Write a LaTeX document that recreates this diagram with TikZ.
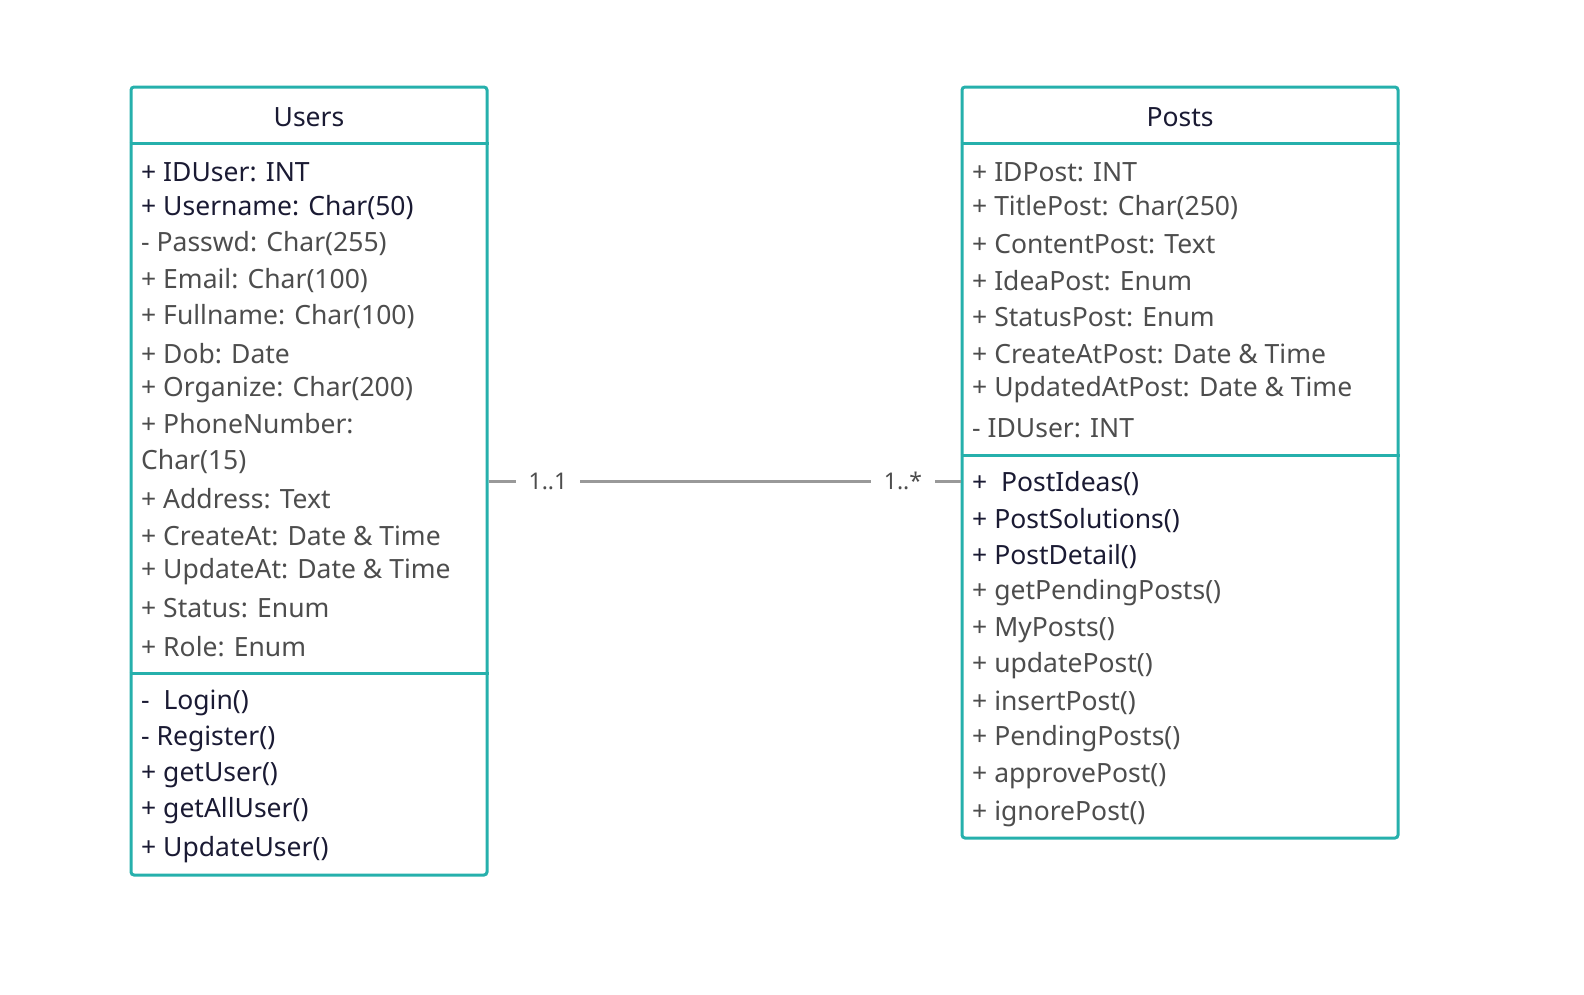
\documentclass[tikz,border=0pt]{standalone}
\usepackage{fontspec}
\setmainfont{Noto Sans}
\usetikzlibrary{calc, positioning}

\definecolor{boxTeal}{HTML}{26B0AC}
\definecolor{darkText}{HTML}{1A1A33}
\definecolor{grayText}{HTML}{4D4D4D}
\definecolor{lineGray}{HTML}{999999}

\tikzset{
  classBox/.style = {draw=boxTeal, line width=3pt, rounded corners=3pt, inner sep=0pt},
  sepLine/.style = {draw=boxTeal, line width=3pt},
  textNode/.style = {align=left, anchor=west, inner sep=0pt, text=grayText,
    font=\fontsize{26.5}{36}\selectfont},
  darkNode/.style = {textNode, text=darkText},
  headNode/.style = {inner sep=0pt, text=darkText, font=\fontsize{26.5}{30}\selectfont},
  multLabel/.style = {fill=white, inner xsep=13pt, inner ysep=2pt, text=grayText,
    font=\fontsize{23}{26}\selectfont}
}

\begin{document}
\begin{tikzpicture}[x=1pt, y=-1pt]
  \useasboundingbox (0,0) rectangle (1584,994);

  % Users class
  \node[classBox, minimum width=356pt, minimum height=788pt] (users) at (309,481) {};
  \node[headNode] (usersHead) at (309,117) {Users};
  \draw[sepLine] (users.west |- 0,143) -- (users.east |- 0,143);
  \draw[sepLine] (users.west |- 0,673) -- (users.east |- 0,673);

  \node[darkNode] (uIdUser) at (141,172) {+ IDUser: INT};
  \node[darkNode] (uUsername) at (141,208) {+ Username: Char(50)};
  \node[textNode] (uPasswd) at (141,244) {- Passwd: Char(255)};
  \node[textNode] (uEmail) at (141,281) {+ Email: Char(100)};
  \node[textNode] (uFullname) at (141,317) {+ Fullname: Char(100)};
  \node[textNode] (uDob) at (141,354) {+ Dob: Date};
  \node[textNode] (uOrganize) at (141,390) {+ Organize: Char(200)};
  \node[textNode] (uPhone) at (141,444) {+ PhoneNumber:\\Char(15)};
  \node[textNode] (uAddress) at (141,499) {+ Address: Text};
  \node[textNode] (uCreateAt) at (141,536) {+ CreateAt: Date \& Time};
  \node[textNode] (uUpdateAt) at (141,572) {+ UpdateAt: Date \& Time};
  \node[textNode] (uStatus) at (141,608) {+ Status: Enum};
  \node[textNode] (uRole) at (141,647) {+ Role: Enum};

  \node[darkNode] (uLogin) at (141,703) {-\ \ Login()};
  \node[darkNode] (uRegister) at (141,739) {- Register()};
  \node[darkNode] (uGetUser) at (141,775) {+ getUser()};
  \node[darkNode] (uGetAllUser) at (141,811) {+ getAllUser()};
  \node[darkNode] (uUpdateUser) at (141,850) {+ UpdateUser()};

  % Posts class
  \node[classBox, minimum width=436pt, minimum height=751pt] (posts) at (1180,462.5) {};
  \node[headNode] (postsHead) at (1180,117) {Posts};
  \draw[sepLine] (posts.west |- 0,143) -- (posts.east |- 0,143);
  \draw[sepLine] (posts.west |- 0,455) -- (posts.east |- 0,455);

  \node[textNode] (pIdPost) at (972,172) {+ IDPost: INT};
  \node[textNode] (pTitle) at (972,208) {+ TitlePost: Char(250)};
  \node[textNode] (pContent) at (972,244) {+ ContentPost: Text};
  \node[textNode] (pIdea) at (972,281) {+ IdeaPost: Enum};
  \node[textNode] (pStatus) at (972,317) {+ StatusPost: Enum};
  \node[textNode] (pCreateAt) at (972,354) {+ CreateAtPost: Date \& Time};
  \node[textNode] (pUpdatedAt) at (972,390) {+ UpdatedAtPost: Date \& Time};
  \node[textNode] (pIdUser) at (972,428) {- IDUser: INT};

  \node[darkNode] (pPostIdeas) at (972,484) {+\ \ PostIdeas()};
  \node[darkNode] (pPostSolutions) at (972,521) {+ PostSolutions()};
  \node[darkNode] (pPostDetail) at (972,557) {+ PostDetail()};
  \node[textNode] (pGetPending) at (972,593) {+ getPendingPosts()};
  \node[textNode] (pMyPosts) at (972,630) {+ MyPosts()};
  \node[textNode] (pUpdatePost) at (972,666) {+ updatePost()};
  \node[textNode] (pInsertPost) at (972,703) {+ insertPost()};
  \node[textNode] (pPendingPosts) at (972,739) {+ PendingPosts()};
  \node[textNode] (pApprovePost) at (972,776) {+ approvePost()};
  \node[textNode] (pIgnorePost) at (972,814) {+ ignorePost()};

  % association
  \draw[lineGray, line width=3pt] (users.east) -- (users.east -| posts.west)
    node[multLabel, pos=0.126] (multUsers) {1..1}
    node[multLabel, pos=0.878] (multPosts) {1..*};
\end{tikzpicture}
\end{document}
